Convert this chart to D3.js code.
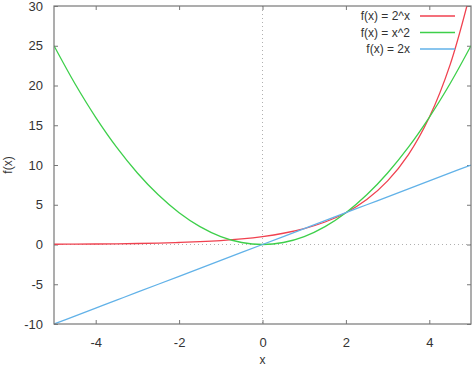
<!DOCTYPE html>
<html>
<head>
<meta charset="utf-8">
<script src="https://cdn.jsdelivr.net/npm/d3@7"></script>
<style>
  body { margin: 0; background: #fff; }
  text { font-family: "Liberation Sans", Arial, sans-serif; }
</style>
</head>
<body>
<div class="svg-mount"></div>
<script>
const xs = [-5, -4.5, -4, -3.5, -3, -2.5, -2, -1.5, -1, -0.5, 0, 0.5, 1, 1.5, 2, 2.5, 3, 3.5, 4, 4.5, 5];
const powTwo = [0.031, 0.044, 0.063, 0.088, 0.125, 0.177, 0.25, 0.354, 0.5, 0.707, 1, 1.414, 2, 2.828, 4, 5.657, 8, 11.31, 16, 22.63, 32];
const square = [25, 20.25, 16, 12.25, 9, 6.25, 4, 2.25, 1, 0.25, 0, 0.25, 1, 2.25, 4, 6.25, 9, 12.25, 16, 20.25, 25];
const double = [-10, -9, -8, -7, -6, -5, -4, -3, -2, -1, 0, 1, 2, 3, 4, 5, 6, 7, 8, 9, 10];
const seriesNames = ["f(x) = 2^x", "f(x) = x^2", "f(x) = 2x"];
const seriesColors = ["#f0414f", "#3dcf4a", "#62b2e8"];
const xTicks = [-4, -2, 0, 2, 4];
const yTicks = [-10, -5, 0, 5, 10, 15, 20, 25, 30];

const actual_width = 474;
const actual_height = 369;
const margin = { top: 6, right: 3, bottom: 45, left: 54 };
const width = actual_width - margin.left - margin.right;
const height = actual_height - margin.top - margin.bottom;

const x = d3.scaleLinear().domain([-5, 5]).range([0, width]);
const y = d3.scaleLinear().domain([-10, 30]).range([height, 0]);

// plain hyphen for negatives, like the original
const plainFormat = (d) => String(d);

const svg = d3
  .select(".svg-mount")
  .append("svg")
  .attr("width", actual_width)
  .attr("height", actual_height);

const g = svg
  .append("g")
  .attr("transform", `translate(${margin.left},${margin.top})`);

svg.append("defs")
  .append("clipPath")
  .attr("id", "plot-clip")
  .append("rect")
  .attr("width", width)
  .attr("height", height);

// zero lines
g.append("line")
  .attr("x1", x(0)).attr("x2", x(0))
  .attr("y1", 0).attr("y2", height)
  .attr("stroke", "#b0b0b0")
  .attr("stroke-dasharray", "1,3");
g.append("line")
  .attr("x1", 0).attr("x2", width)
  .attr("y1", y(0)).attr("y2", y(0))
  .attr("stroke", "#b0b0b0")
  .attr("stroke-dasharray", "1,3");

// axes with inward ticks, mirrored
const tickStyle = (sel) => {
  sel.select(".domain").remove();
  sel.selectAll("line").attr("stroke", "#777");
  sel.selectAll("text")
    .attr("fill", "#333")
    .style("font-size", "13px")
    .style("font-family", "'Liberation Sans', Arial, sans-serif");
};

g.append("g")
  .attr("transform", `translate(0,${height})`)
  .call(d3.axisBottom(x).tickValues(xTicks).tickSize(-4).tickPadding(14).tickFormat(plainFormat))
  .call(tickStyle);
g.append("g")
  .call(d3.axisTop(x).tickValues(xTicks).tickSize(-4).tickFormat(""))
  .call(tickStyle);
g.append("g")
  .call(d3.axisLeft(y).tickValues(yTicks).tickSize(-4).tickPadding(11).tickFormat(plainFormat))
  .call(tickStyle);
g.append("g")
  .attr("transform", `translate(${width},0)`)
  .call(d3.axisRight(y).tickValues(yTicks).tickSize(-4).tickFormat(""))
  .call(tickStyle);

// curves
const allSeries = [powTwo, square, double];
const line = d3.line()
  .x((d) => x(d[0]))
  .y((d) => y(d[1]))
  .curve(d3.curveCatmullRom);

g.append("g")
  .attr("clip-path", "url(#plot-clip)")
  .selectAll("path")
  .data(allSeries)
  .join("path")
  .attr("d", (vals) => line(xs.map((xv, i) => [xv, vals[i]])))
  .attr("fill", "none")
  .attr("stroke", (d, i) => seriesColors[i])
  .attr("stroke-width", 1.3);

// frame
g.append("rect")
  .attr("width", width)
  .attr("height", height)
  .attr("fill", "none")
  .attr("stroke", "#777")
  .attr("stroke-width", 1.2);

// legend
const legend = g.append("g")
  .selectAll("g")
  .data(seriesNames)
  .join("g")
  .attr("transform", (d, i) => `translate(0,${10 + i * 16.5})`);
legend.append("text")
  .attr("x", 410 - margin.left)
  .attr("dy", "0.35em")
  .attr("text-anchor", "end")
  .attr("fill", "#333")
  .style("font-size", "12px")
  .text((d) => d);
legend.append("line")
  .attr("x1", 420 - margin.left)
  .attr("x2", 455 - margin.left)
  .attr("stroke", (d, i) => seriesColors[i])
  .attr("stroke-width", 1.3);

// axis labels
svg.append("text")
  .attr("x", margin.left + x(0))
  .attr("y", 364)
  .attr("text-anchor", "middle")
  .attr("fill", "#333")
  .style("font-size", "12px")
  .text("x");
svg.append("text")
  .attr("transform", `translate(12,${margin.top + height / 2}) rotate(-90)`)
  .attr("text-anchor", "middle")
  .attr("fill", "#333")
  .style("font-size", "12px")
  .text("f(x)");
</script>
</body>
</html>
